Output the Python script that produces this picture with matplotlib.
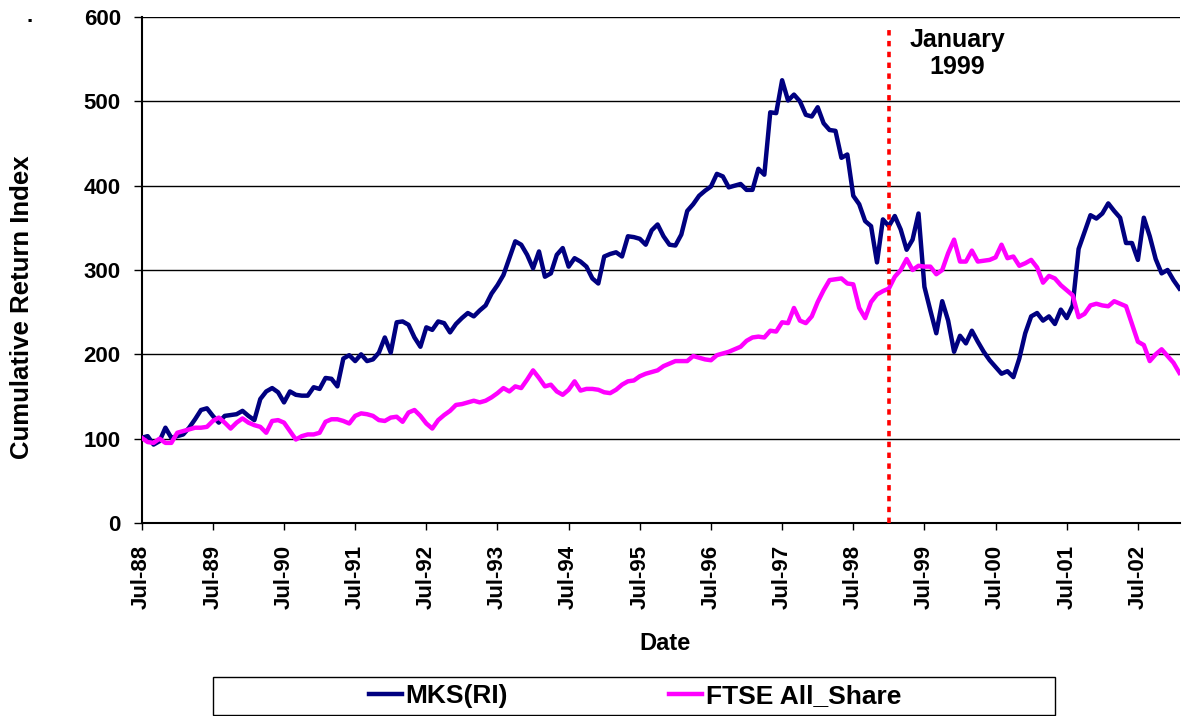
import numpy as np
import pandas as pd
import matplotlib
matplotlib.use("Agg")
import matplotlib.pyplot as plt
from matplotlib.patches import Rectangle

plt.rcParams['font.family'] = ['Liberation Sans', 'DejaVu Sans']
plt.rcParams['font.weight'] = 'bold'

# monthly data, Jul-88 .. Feb-03
months = pd.period_range('1988-07', periods=176, freq='M')

mks = [101, 103, 93, 97, 113, 101, 103, 105, 113, 123, 134, 136, 127, 119, 127, 128,
       129, 133, 127, 122, 147, 156, 160, 155, 143, 156, 152, 151, 151, 161, 159, 172,
       171, 162, 195, 199, 192, 200, 192, 194, 202, 220, 202, 238, 239, 235, 220, 209,
       232, 229, 239, 237, 226, 236, 243, 249, 245, 252, 258, 272, 282, 294, 314, 334,
       330, 318, 302, 322, 292, 296, 318, 326, 304, 314, 310, 304, 290, 284, 316, 319,
       321, 316, 340, 339, 337, 330, 347, 354, 340, 330, 329, 342, 370, 378, 388, 394,
       399, 414, 411, 398, 400, 402, 395, 395, 420, 413, 487, 486, 525, 501, 508, 500,
       484, 482, 493, 474, 466, 465, 433, 437, 388, 378, 358, 352, 309, 360, 352, 364,
       348, 324, 336, 367, 280, 252, 225, 263, 240, 203, 222, 213, 228, 215, 203, 193,
       185, 177, 180, 173, 195, 225, 245, 249, 240, 245, 236, 253, 243, 258, 325, 345,
       365, 361, 367, 379, 370, 362, 332, 332, 312, 362, 340, 313, 296, 300, 288, 278]

ftse = [101, 96, 95, 100, 95, 95, 107, 109, 111, 113, 113, 114, 121, 125, 119, 112,
        119, 124, 119, 116, 114, 107, 121, 122, 119, 109, 99, 103, 105, 105, 107, 120,
        123, 123, 121, 118, 127, 130, 129, 127, 122, 121, 125, 126, 120, 131, 134, 127,
        118, 112, 122, 128, 133, 140, 141, 143, 145, 143, 145, 149, 154, 160, 156, 162,
        160, 170, 181, 172, 162, 164, 156, 152, 158, 168, 157, 159, 159, 158, 155, 154,
        158, 164, 168, 169, 174, 177, 179, 181, 186, 189, 192, 192, 192, 198, 196, 194,
        193, 199, 201, 203, 206, 209, 216, 220, 221, 220, 228, 227, 238, 237, 255, 240,
        237, 245, 262, 276, 288, 289, 290, 284, 283, 255, 243, 262, 271, 275, 278, 292,
        300, 313, 300, 305, 304, 304, 295, 300, 320, 336, 310, 310, 323, 310, 311, 312,
        315, 330, 314, 316, 305, 308, 312, 303, 285, 293, 290, 282, 276, 270, 244, 248,
        258, 260, 258, 257, 263, 260, 257, 236, 215, 211, 192, 200, 206, 198, 190, 178]

event_month = months.get_loc(pd.Period('1999-01', freq='M'))
tick_pos = [i for i, p in enumerate(months) if p.month == 7]
tick_labels = [months[i].strftime('%b-%y') for i in tick_pos]

W, H = 1186, 716
fig = plt.figure(figsize=(W / 100, H / 100), dpi=100)
ax = fig.add_axes([141.7 / W, 1 - 523 / H, (1180 - 141.7) / W, (523 - 17) / H])

x = np.arange(len(months))
l1, = ax.plot(x, mks, color='#000080', lw=3.2, zorder=3)
l2, = ax.plot(x, ftse, color='#FF00FF', lw=3.2, zorder=3)

ax.vlines(event_month, 0, 585, colors='#FF0000', lw=2.6,
          linestyles=[(0, (1.5, 1.5))], zorder=5)
ax.text(event_month + 11.5, 587, 'January\n1999', ha='center', va='top',
        fontsize=18, fontweight='bold', linespacing=1.15)

ax.set_xlim(0, 175.1)
ax.set_ylim(0, 600)
ax.set_yticks(range(0, 601, 100))
ax.set_xticks(tick_pos)
ax.set_xticklabels(tick_labels, rotation=90, fontsize=16, fontweight='bold')
ax.tick_params(axis='y', labelsize=16, length=6, width=1, pad=9, direction='out')
ax.tick_params(axis='x', length=5, width=1, pad=11, direction='out')
for lab in ax.get_yticklabels():
    lab.set_fontweight('bold')

ax.grid(axis='y', color='black', lw=1, zorder=1)
ax.set_axisbelow(True)
for s in ['top', 'right']:
    ax.spines[s].set_visible(False)
ax.spines['left'].set_linewidth(1.5)
ax.spines['bottom'].set_linewidth(1.5)

fig.text(22.5 / W, 1 - 307 / H, 'Cumulative Return Index', rotation=90,
         ha='center', va='center', fontsize=18.5, fontweight='bold')
fig.text(665 / W, 1 - 643 / H, 'Date', ha='center', va='center',
         fontsize=17, fontweight='bold')
fig.text(30 / W, 1 - 17 / H, '.', ha='center', va='center', fontsize=16,
         fontweight='bold')

# legend box
fig.patches.append(Rectangle((213 / W, 1 - 715 / H), (1055 - 213) / W, 38 / H,
                             transform=fig.transFigure, fill=False,
                             edgecolor='black', lw=1))
fig.legend([l1, l2], ['MKS(RI)', 'FTSE All_Share'], loc='center',
           bbox_to_anchor=(635 / W, 1 - 696 / H), ncol=2, frameon=False,
           prop={'weight': 'bold', 'size': 19}, handlelength=1.25,
           handletextpad=0.15, columnspacing=6.1)

fig.savefig('out.png', dpi=100)
